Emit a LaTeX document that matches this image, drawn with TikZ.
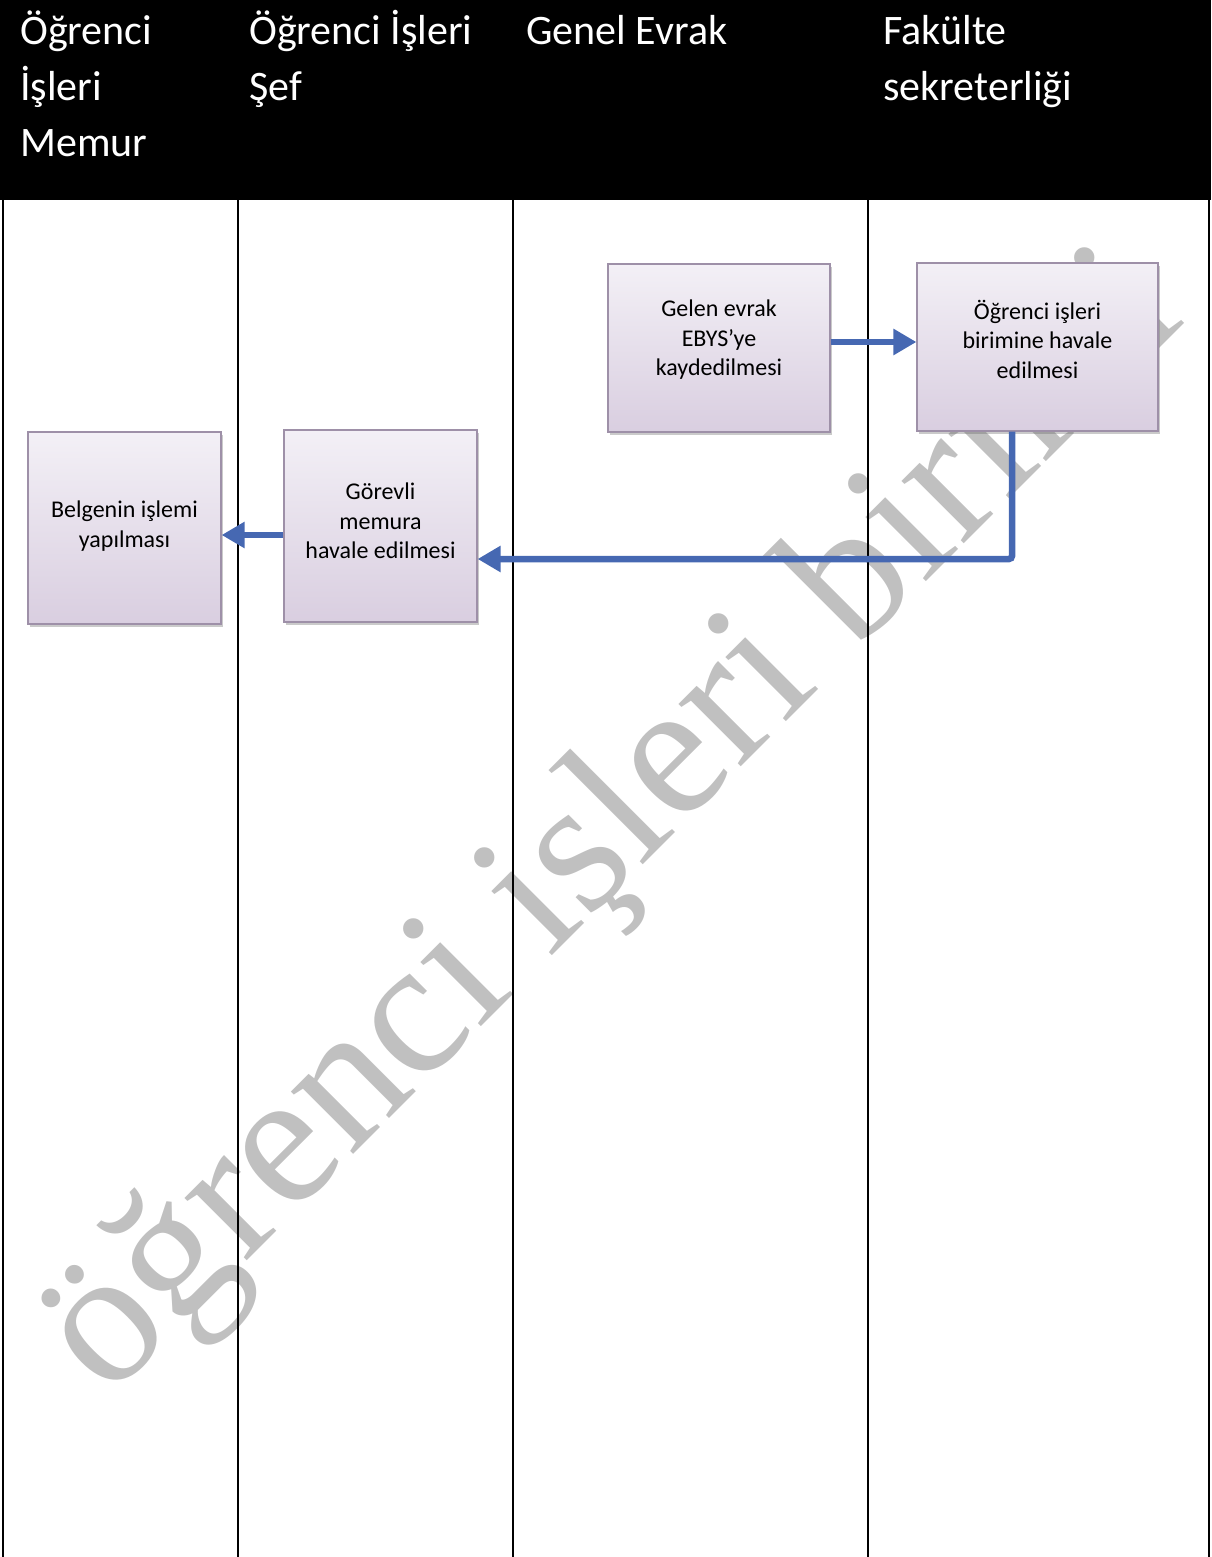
\documentclass[tikz,border=0pt]{standalone}
\usepackage{fontspec}
\newfontfamily\carlito{Carlito}
\newfontfamily\wmfont{Liberation Serif}
\usetikzlibrary{arrows.meta,shadows}
\definecolor{flowblue}{RGB}{70,104,178}
\definecolor{wmgray}{RGB}{192,192,192}
\definecolor{boxtop}{RGB}{243,240,246}
\definecolor{boxbot}{RGB}{217,206,224}
\definecolor{boxline}{RGB}{158,144,168}
\tikzset{
  hdr/.style={anchor=base west, inner sep=0pt, text=white, font=\carlito\fontsize{42}{56}\selectfont},
  lane/.style={line width=2pt, black},
  procbox/.style={rectangle, draw=boxline, line width=1.2pt, top color=boxtop, bottom color=boxbot,
    align=center, inner sep=2pt, font=\carlito\fontsize{24}{29.5}\selectfont,
    drop shadow={shadow xshift=2pt, shadow yshift=-3pt, opacity=0.35, fill=black!60}},
  boxtext/.style={inner sep=0pt, align=center, font=\carlito\fontsize{24}{29.5}\selectfont},
  flow/.style={draw=flowblue, line width=6.5pt, -{Triangle[length=23pt,width=25pt]}},
  wm/.style={inner sep=0pt, text=wmgray, font=\wmfont\fontsize{192}{200}\selectfont}
}
\begin{document}
\begin{tikzpicture}[x=1pt,y=-1pt]
\useasboundingbox (0,0) rectangle (1211,1557);
% watermark
\node[wm, anchor=base, rotate=45] (wm) at (648,860) {öğrenci işleri birimi};
% header band
\fill[black] (0,0) rectangle (1211,200);
% lane lines
\draw[lane] (3,200) -- (3,1557);
\draw[lane] (238,200) -- (238,1557);
\draw[lane] (513,200) -- (513,1557);
\draw[lane] (868,200) -- (868,1557);
\draw[lane] (1209,200) -- (1209,1557);
% header texts
\node[hdr] (h1a) at (20,45) {Öğrenci};
\node[hdr] (h1b) at (20,101) {İşleri};
\node[hdr] (h1c) at (20,157) {Memur};
\node[hdr] (h2a) at (249,45) {Öğrenci İşleri};
\node[hdr] (h2b) at (249,101) {Şef};
\node[hdr] (h3a) at (526,45) {Genel Evrak};
\node[hdr] (h4a) at (883,45) {Fakülte};
\node[hdr] (h4b) at (883,101) {sekreterliği};
% boxes
\node[procbox, minimum width=222pt, minimum height=168pt] (A) at (719,348) {};
\node[boxtext] (At) at (719,340) {Gelen evrak\\EBYS’ye\\kaydedilmesi};
\node[procbox, minimum width=241pt, minimum height=168pt] (B) at (1037.5,347) {};
\node[boxtext] (Bt) at (1037.5,339) {Öğrenci işleri\\birimine havale\\edilmesi};
\node[procbox, minimum width=193pt, minimum height=192pt] (C) at (124.5,528) {};
\node[boxtext] (Ct) at (124.5,526) {Belgenin işlemi\\yapılması};
\node[procbox, minimum width=193pt, minimum height=192pt] (D) at (380.5,526) {};
\node[boxtext] (Dt) at (380.5,521) {Görevli\\memura\\havale edilmesi};
% connectors
\coordinate (ab) at (0,342);
\coordinate (bend) at (1012,559);
\coordinate (dc) at (0,535);
\draw[flow] (A.east |- ab) -- (B.west |- ab);
\draw[flow, rounded corners=3pt] (B.south -| bend) |- (D.east |- bend);
\draw[flow] (D.west |- dc) -- (C.east |- dc);
\end{tikzpicture}
\end{document}
